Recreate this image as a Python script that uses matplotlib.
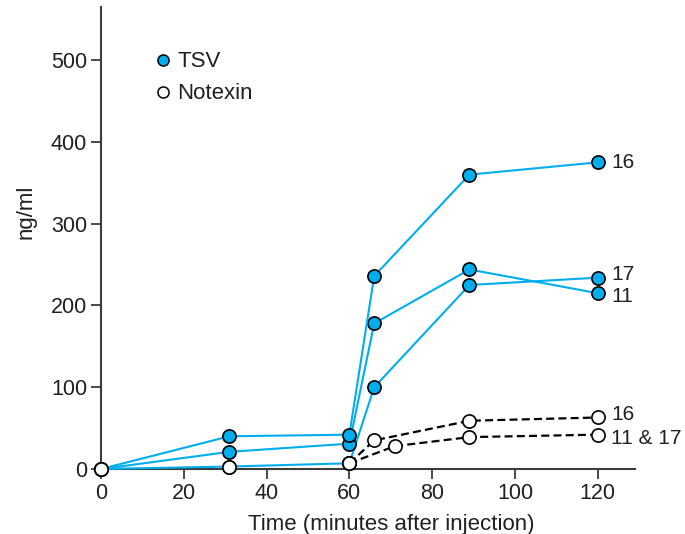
import matplotlib
matplotlib.use("Agg")
import matplotlib.pyplot as plt
from matplotlib.lines import Line2D

plt.rcParams['font.family'] = ['Liberation Sans', 'DejaVu Sans']

# ---- data ----
time_tsv = [0, 31, 60, 66, 89, 120]
tsv_16 = [0, 40, 42, 236, 360, 375]
tsv_11 = [0, 21, 31, 178, 244, 215]
tsv_17 = [0, 3, 7, 100, 225, 234]

time_notexin_early = [0, 31, 60]
notexin_early = [0, 3, 7]
time_notexin_16 = [60, 66, 89, 120]
notexin_16 = [7, 35, 59, 63]
time_notexin_1117 = [60, 71, 89, 120]
notexin_1117 = [7, 28, 39, 42]

labels_right = ["16", "17", "11", "16", "11 & 17"]
label_values = [tsv_16[-1], tsv_17[-1], tsv_11[-1], notexin_16[-1], notexin_1117[-1]]
label_nudge = [0, 2.5, -2.5, 2.5, -2.5]   # small vertical offsets (points) to keep close labels apart

xticks = [0, 20, 40, 60, 80, 100, 120]
yticks = [0, 100, 200, 300, 400, 500]

# ---- style ----
BLUE = '#00aeef'
AX = '#3c3c3c'
TXT = '#231f20'
FS = 15.5
FSL = 16

fig = plt.figure(figsize=(6.85, 5.34), dpi=100)
ax = fig.add_axes([101/685, (534-469)/534, (635-101)/685, (469-7)/534])

mk = dict(marker='o', markersize=9.5, markeredgecolor='black', markeredgewidth=1.2, clip_on=False)

for s in (tsv_17, tsv_11, tsv_16):
    ax.plot(time_tsv, s, color=BLUE, lw=1.5, markerfacecolor=BLUE, zorder=3, **mk)

for t, s in ((time_notexin_16, notexin_16), (time_notexin_1117, notexin_1117)):
    ax.plot(t, s, color='black', lw=1.6, dashes=(3.6, 1.9), markerfacecolor='white', zorder=4, **mk)
ax.plot(time_notexin_early, notexin_early, linestyle='none', markerfacecolor='white', zorder=4, **mk)

for lab, v, dy in zip(labels_right, label_values, label_nudge):
    ax.annotate(lab, xy=(120, v), xytext=(9.5, dy), textcoords='offset points',
                ha='left', va='center', fontsize=15, color=TXT, annotation_clip=False)

ax.set_xlim(0, 129)
ax.set_ylim(0, 565)
ax.set_xticks(xticks)
ax.set_yticks(yticks)

for sp in ('top', 'right'):
    ax.spines[sp].set_visible(False)
for sp in ('left', 'bottom'):
    ax.spines[sp].set_color(AX)
    ax.spines[sp].set_linewidth(1.5)
ax.tick_params(axis='both', direction='out', length=7, width=1.3, color=AX,
               labelsize=FS, labelcolor=TXT, pad=3)

ax.set_xlabel('Time (minutes after injection)', fontsize=FSL, color=TXT)
ax.xaxis.set_label_coords(0.543, -0.097)
ax.set_ylabel('ng/ml', fontsize=FSL, color=TXT)
ax.yaxis.set_label_coords(-0.12, 0.556)

handles = [
    Line2D([], [], linestyle='none', marker='o', markersize=8, markerfacecolor=BLUE,
           markeredgecolor='black', markeredgewidth=1.1, label='TSV'),
    Line2D([], [], linestyle='none', marker='o', markersize=8, markerfacecolor='white',
           markeredgecolor='black', markeredgewidth=1.1, label='Notexin'),
]
leg = ax.legend(handles=handles, loc='upper left', bbox_to_anchor=(0.099, 0.904),
                frameon=False, fontsize=FSL, handlelength=0.8, handletextpad=0.25,
                labelspacing=0.5, borderaxespad=0, borderpad=0)
for t in leg.get_texts():
    t.set_color(TXT)

fig.savefig('out.png', dpi=100)
